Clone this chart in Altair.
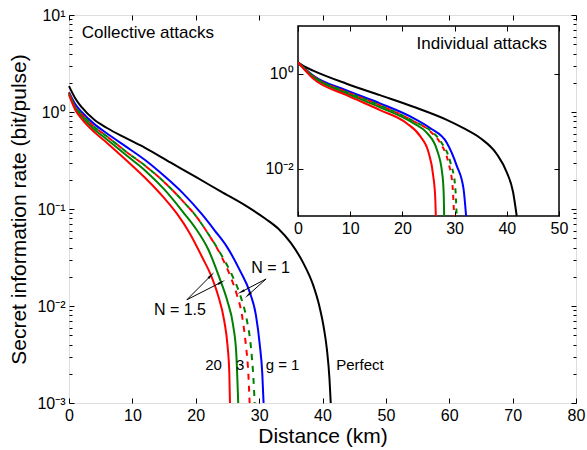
import altair as alt
import pandas as pd

# ---------------- data: collective attacks (main panel) ----------------
coll_perfect_x = [0, 1, 2, 4, 6, 9, 12, 16, 20, 24, 28, 31, 33, 35, 37, 38.5, 39.5, 40.2, 40.7, 41.1, 41.3]
coll_perfect_y = [1.85, 1.38, 1.12, 0.83, 0.684, 0.537, 0.427, 0.302, 0.214, 0.151, 0.107, 0.0794, 0.063, 0.0447, 0.0275, 0.0166, 0.01, 0.006, 0.00355, 0.00178, 0.001]

coll_g1_x = [0, 1, 2, 4, 6, 9, 12, 15, 18, 21, 23, 25, 27, 28.5, 29.5, 30.1, 30.5, 30.7]
coll_g1_y = [1.6, 1.2, 1.0, 0.75, 0.6, 0.44, 0.32, 0.22, 0.145, 0.088, 0.06, 0.04, 0.023, 0.014, 0.008, 0.004, 0.002, 0.001]

coll_g3_x = [0, 1, 2, 4, 6, 9, 12, 15, 18, 20, 22, 23.8, 25, 25.9, 26.4, 26.7]
coll_g3_y = [1.55, 1.1, 0.9, 0.66, 0.52, 0.36, 0.25, 0.16, 0.093, 0.063, 0.038, 0.019, 0.0112, 0.0063, 0.0032, 0.001]

coll_g20_x = [0, 1, 2, 4, 6, 9, 12, 15, 17, 19, 21, 22.5, 23.5, 24.5, 25, 25.3, 25.4]
coll_g20_y = [1.5, 1.05, 0.85, 0.62, 0.48, 0.32, 0.21, 0.13, 0.09, 0.057, 0.032, 0.02, 0.013, 0.007, 0.004, 0.002, 0.001]

coll_n_red_x = [0, 1, 2, 4, 6, 9, 12, 15, 18, 20, 22, 24, 25.5, 26.5, 27.3, 27.9, 28.3, 28.5]
coll_n_red_y = [1.58, 1.12, 0.95, 0.7, 0.56, 0.39, 0.28, 0.19, 0.12, 0.085, 0.055, 0.033, 0.02, 0.013, 0.008, 0.004, 0.002, 0.001]

coll_n_green_x = [0, 1, 2, 4, 6, 9, 12, 15, 18, 20, 22, 24, 25.7, 27, 28, 28.7, 29.1, 29.3]
coll_n_green_y = [1.58, 1.12, 0.95, 0.7, 0.56, 0.39, 0.28, 0.19, 0.12, 0.085, 0.055, 0.034, 0.021, 0.013, 0.0075, 0.0038, 0.0018, 0.001]

# ---------------- data: individual attacks (inset) ----------------
ind_perfect_x = [0, 1, 2.9, 9.3, 15.7, 22.1, 28.5, 31.7, 34.9, 38.1, 40.0, 41.2, 41.9]
ind_perfect_y = [1.71, 1.45, 1.15, 0.61, 0.35, 0.2, 0.106, 0.071, 0.044, 0.02, 0.0083, 0.0032, 0.001]

ind_g1_x = [0, 2.9, 9.3, 15.7, 22.1, 25.3, 28.5, 30.4, 31.7, 32.2]
ind_g1_y = [1.71, 0.91, 0.44, 0.235, 0.115, 0.071, 0.035, 0.0115, 0.0038, 0.001]

ind_g3_x = [0, 2.9, 9.3, 15.7, 22.1, 24.7, 26.6, 27.6, 27.9, 28.0]
ind_g3_y = [1.71, 0.85, 0.38, 0.195, 0.09, 0.056, 0.025, 0.0083, 0.0032, 0.001]

ind_g20_x = [0, 2.9, 9.3, 15.7, 20.8, 23.4, 25.0, 25.9, 26.3, 26.4]
ind_g20_y = [1.71, 0.78, 0.35, 0.17, 0.09, 0.048, 0.022, 0.0071, 0.0023, 0.001]

ind_n_red_x = [0, 2.9, 9.3, 15.7, 22.1, 25.3, 27.2, 28.8, 29.6, 29.9]
ind_n_red_y = [1.71, 0.88, 0.41, 0.215, 0.1, 0.061, 0.035, 0.0134, 0.0044, 0.001]

ind_n_green_x = [0, 2.9, 9.3, 15.7, 22.1, 25.5, 27.5, 29.2, 30.1, 30.4]
ind_n_green_y = [1.71, 0.88, 0.41, 0.215, 0.1, 0.061, 0.035, 0.0134, 0.0044, 0.001]

# ---------------- axes / labels ----------------
main_x_domain = [0, 80]
inset_x_domain = [0, 50]
y_domain = [1e-3, 10]
main_x_ticks = [0, 10, 20, 30, 40, 50, 60, 70, 80]
inset_x_ticks = [0, 10, 20, 30, 40, 50]
main_y_ticks = [0.001, 0.01, 0.1, 1, 10]
main_y_labels = ["10⁻³", "10⁻²", "10⁻¹", "10⁰", "10¹"]
inset_y_ticks = [0.01, 1]
inset_y_labels = ["10⁻²", "10⁰"]
minor_y_ticks = [m * d for d in [0.001, 0.01, 0.1, 1] for m in range(2, 10)]

# annotations (data coordinates)
text_main = ["Collective attacks"]
text_main_x = [2.0]
text_main_y = [6.5]
text_g_labels = ["20", "3", "g = 1", "Perfect"]
text_g_x = [22.8, 27.0, 33.7, 45.9]
text_g_y = [0.00247, 0.00247, 0.00247, 0.00247]
text_n_labels = ["N = 1.5", "N = 1"]
text_n_x = [17.5, 31.8]
text_n_y = [0.0091, 0.0247]
arrow_start_x = [18.6, 18.6, 31.1, 31.1]
arrow_start_y = [0.0116, 0.0116, 0.019, 0.019]
arrow_end_x = [22.3, 23.9, 27.3, 28.4]
arrow_end_y = [0.0203, 0.0174, 0.0141, 0.0132]
arrow_angle = [45, 62, 242, 228]
text_inset = ["Individual attacks"]
text_inset_x = [47.7]
text_inset_y = [4.25]

# ---------------- layout ----------------
FONT = "Liberation Sans"
W, H = 507, 388
LEFT, TOP = 69, 15
INSET_X_RANGE = [229, 490]
INSET_Y_RANGE = [201, 11]
RED, GREEN, BLUE, BLACK = "#ff0000", "#008000", "#0000ff", "#000000"


def frame(x, y):
    return pd.DataFrame({"x": x, "y": y, "i": list(range(len(x)))})


def sup_expr(vals, labs):
    parts = [f"datum.value < {v * 3.1623} ? '{l}'" for v, l in zip(vals[:-1], labs[:-1])]
    return " : ".join(parts) + f" : '{labs[-1]}'"


def axis(orient, values, size, offset, labels=False, title=None, expr=None, zindex=0,
         label_pad=4, title_pad=4, title_size=21, label_size=16):
    kw = dict(orient=orient, values=values, tickSize=size, offset=offset, domain=False,
              labels=labels, grid=False, ticks=True, tickColor="black", tickWidth=1,
              zindex=zindex, labelFont=FONT, labelFontSize=label_size, labelColor="black",
              labelPadding=label_pad, title=title, labelFlush=False, labelOverlap=False)
    if title is not None:
        kw.update(titleFont=FONT, titleFontSize=title_size, titleFontWeight="normal",
                  titleColor="black", titlePadding=title_pad)
    if expr is not None:
        kw["labelExpr"] = expr
    return alt.Axis(**kw)


mx = alt.Scale(domain=main_x_domain, nice=False, zero=False)
my = alt.Scale(type="log", domain=y_domain, nice=False)
ix = alt.Scale(domain=inset_x_domain, nice=False, zero=False, range=INSET_X_RANGE)
iy = alt.Scale(type="log", domain=y_domain, nice=False, range=INSET_Y_RANGE)


def line(x, y, color, xs, ys, xaxis=None, yaxis=None, dash=None, dash_offset=None, width=2):
    mk = dict(strokeWidth=width, interpolate="monotone", color=color)
    if dash is not None:
        mk["strokeDash"] = dash
    if dash_offset is not None:
        mk["strokeDashOffset"] = dash_offset
    return alt.Chart(frame(x, y)).mark_line(**mk).encode(
        x=alt.X("x:Q", scale=xs, axis=xaxis),
        y=alt.Y("y:Q", scale=ys, axis=yaxis),
        order="i:Q",
    )


def texts(labels, x, y, xs, ys, size, align="center"):
    df = pd.DataFrame({"x": x, "y": y, "t": labels})
    return alt.Chart(df).mark_text(font=FONT, fontSize=size, align=align, baseline="middle",
                                   color="black").encode(
        x=alt.X("x:Q", scale=xs, axis=None),
        y=alt.Y("y:Q", scale=ys, axis=None),
        text="t:N",
    )


# main axes
ax_bottom = axis("bottom", main_x_ticks, 5, -5, labels=True, title="Distance (km)", label_pad=4, title_pad=2)
ax_left = axis("left", main_y_ticks, 5, -5, labels=True, title="Secret information rate (bit/pulse)",
               expr=sup_expr(main_y_ticks, main_y_labels), label_pad=4, title_pad=7)
ax_top = axis("top", main_x_ticks, 5, -5)
ax_right = axis("right", main_y_ticks, 5, -5)
ax_left_minor = axis("left", minor_y_ticks, 3, -3)
ax_right_minor = axis("right", minor_y_ticks, 3, -3)

main_layers = [
    line(coll_perfect_x, coll_perfect_y, BLACK, mx, my, ax_bottom, ax_left),
    line(coll_g1_x, coll_g1_y, BLUE, mx, my, ax_top, ax_right),
    line(coll_n_green_x, coll_n_green_y, GREEN, mx, my, None, ax_left_minor, dash=[6, 6], dash_offset=6),
    line(coll_n_red_x, coll_n_red_y, RED, mx, my, None, ax_right_minor, dash=[6, 6]),
    line(coll_g3_x, coll_g3_y, GREEN, mx, my),
    line(coll_g20_x, coll_g20_y, RED, mx, my),
]

arrows = pd.DataFrame({
    "x": arrow_start_x + arrow_end_x,
    "y": arrow_start_y + arrow_end_y,
    "a": list(range(len(arrow_start_x))) * 2,
    "i": [0] * len(arrow_start_x) + [1] * len(arrow_end_x),
})
arrow_lines = alt.Chart(arrows).mark_line(color="black", strokeWidth=1).encode(
    x=alt.X("x:Q", scale=mx, axis=None), y=alt.Y("y:Q", scale=my, axis=None),
    detail="a:N", order="i:Q")
heads = pd.DataFrame({"x": arrow_end_x, "y": arrow_end_y, "ang": arrow_angle})
arrow_heads = alt.Chart(heads).mark_point(shape="wedge", filled=True, size=90, color="black",
                                           opacity=1).encode(
    x=alt.X("x:Q", scale=mx, axis=None), y=alt.Y("y:Q", scale=my, axis=None),
    angle=alt.Angle("ang:Q", scale=None))

main_layers += [
    arrow_lines, arrow_heads,
    texts(text_main, text_main_x, text_main_y, mx, my, 17, align="left"),
    texts(text_g_labels, text_g_x, text_g_y, mx, my, 15),
    texts(text_n_labels, text_n_x, text_n_y, mx, my, 16),
]

main = alt.layer(*main_layers).resolve_axis(x="independent", y="independent")

# inset
box_df = pd.DataFrame({"x": [inset_x_domain[0]], "x2": [inset_x_domain[1]],
                       "y": [y_domain[0]], "y2": [y_domain[1]]})
in_bottom = axis("bottom", inset_x_ticks, 5, -(H - INSET_Y_RANGE[0]) - 5, labels=True, zindex=1, label_pad=4)
in_left = axis("left", inset_y_ticks, 5, -INSET_X_RANGE[0] - 5, labels=True, zindex=1,
               expr=sup_expr(inset_y_ticks, inset_y_labels), label_pad=5)
in_top = axis("top", inset_x_ticks, 5, -INSET_Y_RANGE[1] - 5, zindex=1)
in_right = axis("right", inset_y_ticks, 5, INSET_X_RANGE[1] - W - 5, zindex=1)

box = alt.Chart(box_df).mark_rect(fill="white", stroke="black", strokeWidth=1.5).encode(
    x=alt.X("x:Q", scale=ix, axis=in_bottom), x2="x2:Q",
    y=alt.Y("y:Q", scale=iy, axis=in_left), y2="y2:Q")

inset_layers = [
    box,
    line(ind_perfect_x, ind_perfect_y, BLACK, ix, iy, in_top, in_right),
    line(ind_g1_x, ind_g1_y, BLUE, ix, iy),
    line(ind_n_green_x, ind_n_green_y, GREEN, ix, iy, dash=[5, 5], dash_offset=5),
    line(ind_n_red_x, ind_n_red_y, RED, ix, iy, dash=[5, 5]),
    line(ind_g3_x, ind_g3_y, GREEN, ix, iy),
    line(ind_g20_x, ind_g20_y, RED, ix, iy),
    texts(text_inset, text_inset_x, text_inset_y, ix, iy, 17, align="right"),
]
inset = alt.layer(*inset_layers).resolve_axis(x="independent", y="independent")

chart = alt.layer(main, inset).resolve_scale(x="independent", y="independent").resolve_axis(
    x="independent", y="independent").properties(
    width=W, height=H,
    autosize=alt.AutoSizeParams(type="none"),
    padding={"left": LEFT, "top": TOP, "right": 587 - LEFT - W, "bottom": 450 - TOP - H},
).configure_view(stroke="black", strokeWidth=1.5).configure(font=FONT, background="white")

chart.save("out.html", embed_options={"renderer": "svg", "actions": False})
